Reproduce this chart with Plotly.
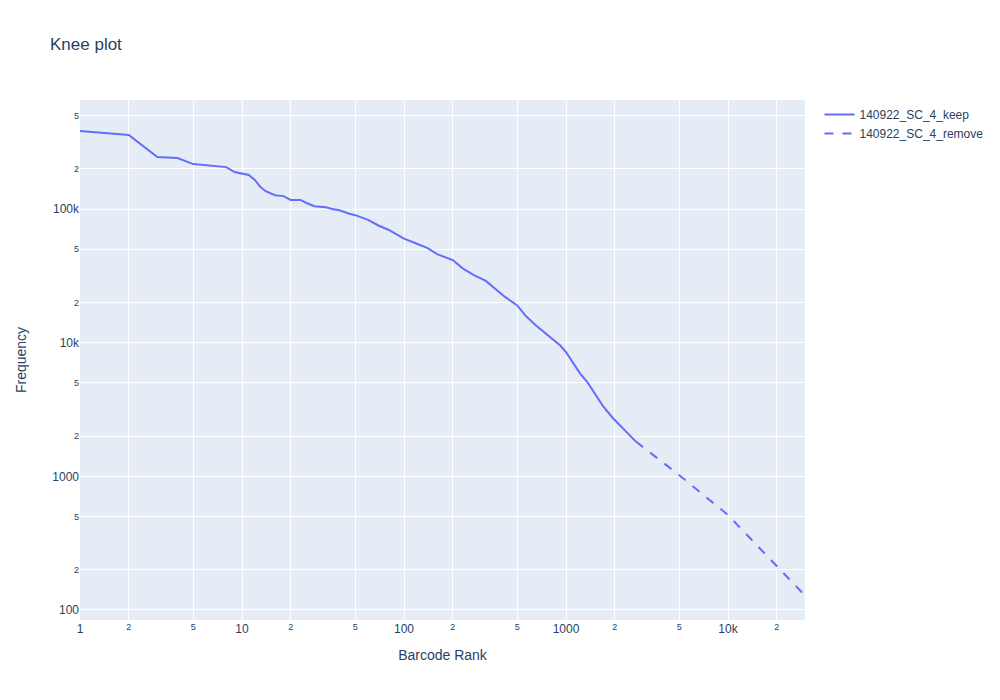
import plotly.graph_objects as go

keep_rank = [1, 2, 3, 4, 5, 8, 9, 11, 12, 13, 14, 16, 18, 20, 23, 25, 28, 33, 36, 40, 45, 50,
             60, 70, 80, 100, 120, 140, 160, 200, 230, 270, 320, 370, 420, 500, 560, 650,
             850, 918, 1000, 1105, 1220, 1349, 1468, 1692, 1950, 2249, 2700]
keep_freq = [384000, 358000, 245000, 241000, 217000, 206000, 189000, 180000, 165000, 146000,
             136000, 127000, 125000, 117000, 117000, 111000, 105000, 103000, 100000, 98000,
             93000, 90000, 83000, 75000, 70000, 60000, 55000, 51000, 46000, 41500, 36000,
             32000, 29000, 25000, 22000, 19000, 16000, 13500, 10400, 9570, 8500, 7000, 5900,
             5100, 4350, 3350, 2720, 2290, 1820]

remove_rank = [2700, 5000, 10000, 20000, 29850]
remove_freq = [1820, 1020, 513, 215, 128]

fig = go.Figure()
fig.add_trace(go.Scatter(x=keep_rank, y=keep_freq, mode="lines", name="140922_SC_4_keep",
                         line=dict(color="#636efa")))
fig.add_trace(go.Scatter(x=remove_rank, y=remove_freq, mode="lines", name="140922_SC_4_remove",
                         line=dict(color="#636efa", dash="dash")))

fig.update_layout(
    title=dict(text="Knee plot"),
    width=1000, height=700,
    template="plotly",
    font=dict(family="Liberation Sans, Arial, sans-serif"),
    xaxis=dict(type="log", title="Barcode Rank", range=[0, 4.475]),
    yaxis=dict(type="log", title=dict(text="Frequency", standoff=22), range=[1.925, 5.816]),
)
fig.write_html("out.html")
